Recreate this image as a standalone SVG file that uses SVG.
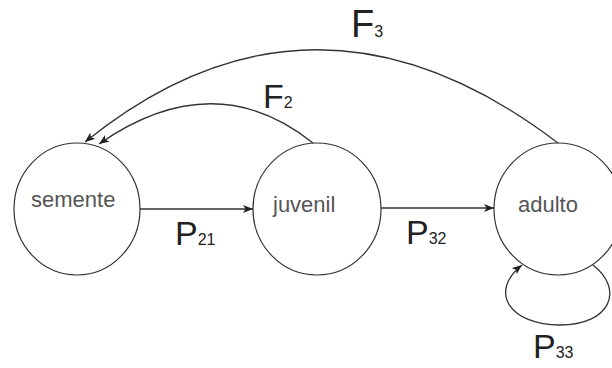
<svg xmlns="http://www.w3.org/2000/svg" width="612" height="368" viewBox="0 0 612 368">
<defs>
<marker id="arr" markerUnits="userSpaceOnUse" markerWidth="12" markerHeight="10" refX="10" refY="4" orient="auto">
<path d="M0,0 L10,4 L0,8 L2.5,4 Z" fill="#222"/>
</marker>
<style>
.node{fill:#fff;stroke:#333;stroke-width:1.2}
.nt{font-family:"Liberation Sans",Arial,sans-serif;font-size:22px;fill:#555}
.edge{fill:none;stroke:#333;stroke-width:1.3;marker-end:url(#arr)}
.lb{font-family:"Liberation Sans",Arial,sans-serif;font-size:34px;fill:#222}
.sub{font-size:16px}
</style>
</defs>
<rect width="612" height="368" fill="#fff"/>
<g id="semente">
<ellipse class="node" cx="77" cy="209" rx="63" ry="66"/>
<text class="nt" x="31" y="207">semente</text>
</g>
<g id="juvenil">
<ellipse class="node" cx="317" cy="209" rx="64" ry="66"/>
<text class="nt" x="273" y="212">juvenil</text>
</g>
<g id="adulto">
<ellipse class="node" cx="558" cy="209" rx="64" ry="66"/>
<text class="nt" x="518" y="212">adulto</text>
</g>
<g id="connectors">
<path class="edge" d="M140,209 L253,209"/>
<path class="edge" d="M381,208 L494,208"/>
<path class="edge" d="M313,143 Q214,64 99,144"/>
<path class="edge" d="M558,143 Q314,-43 85,142"/>
<path class="edge" d="M593,265 C625,290 610,325 560,325 C510,325 488,292 522,265"/>
</g>
<g id="labels">
<text class="lb" x="351" y="37" style="font-size:38px">F<tspan class="sub" dy="0">3</tspan></text>
<text class="lb" x="263" y="108">F<tspan class="sub">2</tspan></text>
<text class="lb" x="175" y="245">P<tspan class="sub">21</tspan></text>
<text class="lb" x="406" y="244">P<tspan class="sub">32</tspan></text>
<text class="lb" x="533" y="358">P<tspan class="sub">33</tspan></text>
</g>
</svg>
